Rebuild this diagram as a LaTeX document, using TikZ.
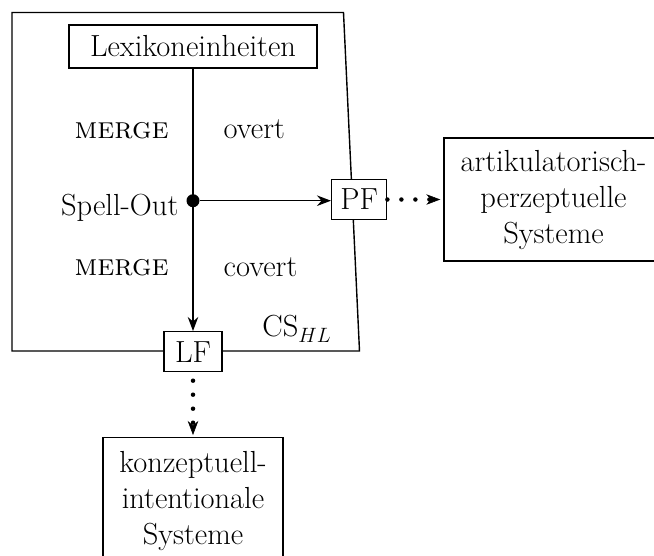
\documentclass[tikz,border=0pt]{standalone}
\usepackage{fontspec}
\usetikzlibrary{arrows.meta}
\begin{document}
\begin{tikzpicture}[x=1pt,y=-1pt,
  line width=1.4pt,
  every node/.style={font=\fontsize{30.5}{36}\selectfont},
  box/.style={draw, fill=white, inner sep=0pt, line width=1.4pt},
  lbl/.style={inner sep=0pt},
  arr/.style={-{Stealth[length=14pt,width=10.5pt,inset=4.5pt]}},
  dotarr/.style={line width=4.5pt, line cap=round, dash pattern=on 0pt off 14pt,
    -{Stealth[length=14pt 0 0,width=10.5pt 0 0,inset=4.5pt 0,line width=0.6pt 0 0]}},
]
\useasboundingbox (0,0) rectangle (654,555);
\clip (0,0) rectangle (654,555);
\draw (12,12.5) -- (343.5,12.5) -- (359.5,351) -- (12,351) -- cycle;
\node[box, minimum width=248pt, minimum height=43pt] (lex) at (193,46.4) {Lexikoneinheiten};
\node[box, minimum width=55pt, minimum height=40pt] (pf) at (359.2,199.5) {PF};
\node[box, minimum width=58pt, minimum height=40pt] (lf) at (193,351.7) {LF};
\node[box, minimum width=219pt, minimum height=123pt] (art) at (553.5,199.5) {};
\node[lbl, anchor=north, align=center] (artt) at (553.5,150) {artikulatorisch-\\perzeptuelle\\Systeme};
\node[box, minimum width=180pt, minimum height=150pt, anchor=north] (kon) at (193,437) {};
\node[lbl, anchor=north, align=center] (kont) at (193,450.3) {konzeptuell-\\intentionale\\Systeme};
\node[lbl, anchor=base] (m1) at (121.7,138.3) {\textsc{merge}};
\node[lbl, anchor=base] (m2) at (121.7,275) {\textsc{merge}};
\node[lbl, anchor=base west] (ov) at (223,138.3) {overt};
\node[lbl, anchor=base west] (cov) at (223,276) {covert};
\node[lbl, anchor=base east] (sp) at (179,215) {Spell-Out};
\node[lbl, anchor=base west] (cs) at (261.7,336.5) {CS$_{HL}$};
\node[circle, fill, inner sep=0pt, minimum size=13pt] (so) at (193,200.7) {};
\draw[arr] (lex) -- (lf);
\draw[arr] (so) -- (so -| pf.west);
\draw[dotarr, shorten >=3pt] (pf.east) -- (art.west |- pf.east);
\draw[dotarr, dash phase=5.7pt, shorten >=2pt] (lf) -- (kon);
\end{tikzpicture}
\end{document}
